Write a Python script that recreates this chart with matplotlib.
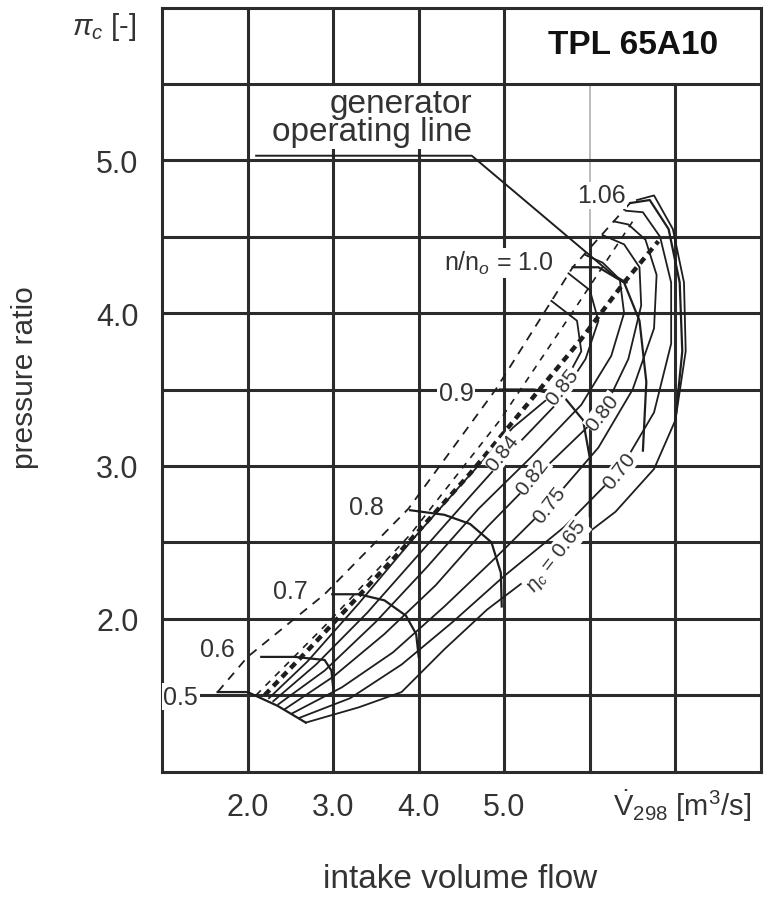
import matplotlib.pyplot as plt

plt.rcParams['font.family'] = ['Liberation Sans', 'DejaVu Sans']
plt.rcParams['mathtext.fontset'] = 'custom'
plt.rcParams['mathtext.rm'] = 'Liberation Sans'
plt.rcParams['mathtext.it'] = 'Liberation Sans:italic'

ink = '#1e1e1e'
grid_c = '#2b2b2b'

# speed lines n/n0 (left end at surge line)
n050_x = [1.65, 2.0, 2.35, 2.68]
n050_y = [1.52, 1.52, 1.43, 1.32]
n060_x = [2.16, 2.55, 2.9, 2.98, 3.0]
n060_y = [1.75, 1.75, 1.73, 1.66, 1.55]
n070_x = [2.99, 3.3, 3.6, 3.85, 3.97, 4.0]
n070_y = [2.16, 2.16, 2.12, 2.02, 1.9, 1.75]
n080_x = [3.9, 4.3, 4.6, 4.85, 4.96, 4.97]
n080_y = [2.71, 2.68, 2.62, 2.5, 2.3, 2.08]
n090_x = [4.95, 5.35, 5.7, 5.92, 6.0, 6.0]
n090_y = [3.5, 3.5, 3.45, 3.3, 3.05, 2.67]
n100_x = [5.8, 6.1, 6.4, 6.58, 6.66, 6.62]
n100_y = [4.3, 4.3, 4.2, 3.95, 3.55, 3.1]
n106_x = [6.47, 6.7, 6.92, 7.05, 7.08, 7.0]
n106_y = [4.72, 4.74, 4.55, 4.2, 3.75, 3.3]
speed_lines = [(n050_x, n050_y), (n060_x, n060_y), (n070_x, n070_y), (n080_x, n080_y),
               (n090_x, n090_y), (n100_x, n100_y), (n106_x, n106_y)]

# surge line, second dashed line and generator operating line
surge_x = [1.65, 2.0, 2.9, 3.88, 4.9, 5.8, 6.47]
surge_y = [1.52, 1.75, 2.16, 2.72, 3.5, 4.3, 4.72]
dash2_x = [2.1, 2.95, 3.9, 4.95, 5.85, 6.5]
dash2_y = [1.5, 1.98, 2.55, 3.3, 4.05, 4.6]
oper_x = [2.2, 2.8, 3.8, 4.6, 5.9, 6.4, 6.8]
oper_y = [1.5, 1.85, 2.45, 2.95, 3.83, 4.2, 4.47]

# efficiency contours
eff065_x = [2.68, 3.3, 3.8, 4.3, 4.8, 5.6, 6.3, 6.75, 7.0, 7.12, 7.1, 6.97, 6.75, 6.55]
eff065_y = [1.32, 1.42, 1.52, 1.8, 2.06, 2.4, 2.7, 2.98, 3.3, 3.75, 4.2, 4.55, 4.77, 4.74]
eff070_x = [2.6, 3.2, 3.8, 4.4, 5.0, 5.7, 6.35, 6.75, 6.95, 6.95, 6.82, 6.62, 6.42]
eff070_y = [1.35, 1.48, 1.7, 1.98, 2.28, 2.6, 2.97, 3.35, 3.8, 4.2, 4.5, 4.66, 4.67]
eff075_x = [2.52, 3.1, 3.7, 4.3, 4.9, 5.53, 6.1, 6.5, 6.75, 6.78, 6.65, 6.45, 6.28]
eff075_y = [1.38, 1.55, 1.78, 2.08, 2.4, 2.75, 3.12, 3.5, 3.9, 4.25, 4.48, 4.58, 4.6]
eff080_x = [2.44, 3.0, 3.6, 4.2, 4.8, 5.5, 6.15, 6.45, 6.6, 6.58, 6.4, 6.15]
eff080_y = [1.41, 1.62, 1.9, 2.22, 2.6, 3.0, 3.35, 3.7, 4.05, 4.3, 4.45, 4.51]
eff082_x = [2.36, 2.9, 3.5, 4.1, 4.7, 5.3, 5.9, 6.25, 6.4, 6.35, 6.15, 5.95]
eff082_y = [1.44, 1.66, 1.98, 2.34, 2.72, 3.05, 3.4, 3.72, 4.0, 4.22, 4.33, 4.38]
eff084_x = [2.3, 2.8, 3.4, 4.0, 4.6, 5.0, 5.6, 5.95, 6.1, 6.0, 5.75]
eff084_y = [1.46, 1.7, 2.04, 2.42, 2.8, 3.05, 3.4, 3.7, 3.95, 4.15, 4.26]
eff085_x = [2.25, 2.7, 3.3, 3.9, 4.5, 5.1, 5.68, 5.9, 5.85, 5.55]
eff085_y = [1.48, 1.72, 2.1, 2.5, 2.88, 3.25, 3.52, 3.75, 3.95, 4.08]
eff_lines = [(eff065_x, eff065_y), (eff070_x, eff070_y), (eff075_x, eff075_y), (eff080_x, eff080_y),
             (eff082_x, eff082_y), (eff084_x, eff084_y), (eff085_x, eff085_y)]

# labels
speed_text = ['0.5', '0.6', '0.7', '0.8', '0.9', 'n/n$_o$ = 1.0', '1.06']
speed_lx = [1.22, 1.65, 2.5, 3.39, 4.44, 4.94, 6.13]
speed_ly = [1.49, 1.8, 2.18, 2.73, 3.48, 4.33, 4.77]
eff_text = ['0.84', '0.85', '0.82', '0.80', '0.75', '0.70', '$\\eta_c$ = 0.65']
eff_lx = [4.98, 5.68, 5.33, 6.15, 5.53, 6.35, 5.61]
eff_ly = [3.09, 3.52, 2.93, 3.35, 2.75, 2.97, 2.41]

lead_x = [2.1, 4.62, 6.27, 6.43]
lead_y = [5.03, 5.03, 4.25, 4.2]

fig = plt.figure(figsize=(7.7, 9.04), dpi=100)
ax = fig.add_axes([162 / 770, 1 - 772.5 / 904, 599 / 770, 764 / 904])
ax.set_xlim(1, 8)
ax.set_ylim(1, 6)

# grid
for gx in [2, 3, 4, 5]:
    ax.axvline(gx, color=grid_c, lw=2.2, zorder=1)
ax.axvline(6, ymax=0.7, color=grid_c, lw=2.2, zorder=1)
ax.axvline(6, ymin=0.7, ymax=0.9, color='#b0b0b0', lw=1.2, zorder=1)
ax.axvline(7, ymax=0.9, color=grid_c, lw=2.2, zorder=1)
for gy in [1.5, 2.0, 2.5, 3.0, 3.5, 4.0, 4.5, 5.0]:
    ax.axhline(gy, color=grid_c, lw=2.2, zorder=1)
ax.axhline(5.5, color=grid_c, lw=2.2, zorder=3.5)
for s in ax.spines.values():
    s.set_linewidth(2.2)
    s.set_color(grid_c)

for ex, ey in eff_lines:
    ax.plot(ex, ey, color=ink, lw=1.3, zorder=2)
for sx, sy in speed_lines:
    ax.plot(sx, sy, color=ink, lw=1.6, zorder=2)
ax.plot(surge_x, surge_y, color=ink, lw=1.3, ls=(0, (5, 4)), zorder=2)
ax.plot(dash2_x, dash2_y, color=ink, lw=1.2, ls=(0, (4, 4)), zorder=2)
ax.plot(oper_x, oper_y, color=ink, lw=3.2, ls=(0, (1.6, 1.2)), zorder=2)
ax.plot(lead_x, lead_y, color=ink, lw=1.4, zorder=5)

box = dict(fc='white', ec='none', pad=1)
for t, x, y in zip(speed_text, speed_lx, speed_ly):
    ax.text(x, y, t, fontsize=18, color='#333333', ha='center', va='center', bbox=box, zorder=4)
for t, x, y in zip(eff_text, eff_lx, eff_ly):
    ax.text(x, y, t, fontsize=15, color='#333333', ha='center', va='center', rotation=52,
            rotation_mode='anchor', bbox=dict(fc='white', ec='none', pad=0.5), zorder=4)

ax.text(4.62, 5.28, 'generator\noperating line', fontsize=24, color='#333333', ha='right',
        va='center', multialignment='right', linespacing=0.9,
        bbox=dict(fc='white', ec='none', pad=1), zorder=3)
ax.text(6.5, 5.76, 'TPL 65A10', fontsize=24, fontweight='bold', color='#111111',
        ha='center', va='center', bbox=dict(fc='white', ec='none', pad=3), zorder=3)

ax.set_xticks([2, 3, 4, 5])
ax.set_xticklabels(['2.0', '3.0', '4.0', '5.0'])
ax.set_yticks([2, 3, 4, 5])
ax.set_yticklabels(['2.0', '3.0', '4.0', '5.0'])
ax.tick_params(length=0, labelsize=22, labelcolor='#333333')
ax.tick_params(axis='x', pad=15)
ax.tick_params(axis='y', pad=17)
ax.text(7.08, 0.78, '$\\dot{\\mathrm{V}}_{298}$ [m$^3$/s]', fontsize=21, color='#333333',
        ha='center', va='center', clip_on=False)
ax.text(-0.042, 5.88, '$\\pi_c$ [-]', fontsize=21, color='#333333', ha='right', va='center',
        transform=ax.get_yaxis_transform(), clip_on=False)

fig.text(25 / 770, 1 - 378 / 904, 'pressure ratio', rotation=90, fontsize=21.5,
         color='#333333', ha='center', va='center')
fig.text(460 / 770, 1 - 880 / 904, 'intake volume flow', fontsize=24,
         color='#333333', ha='center', va='center')

fig.savefig('out.png', dpi=100, facecolor='white')
